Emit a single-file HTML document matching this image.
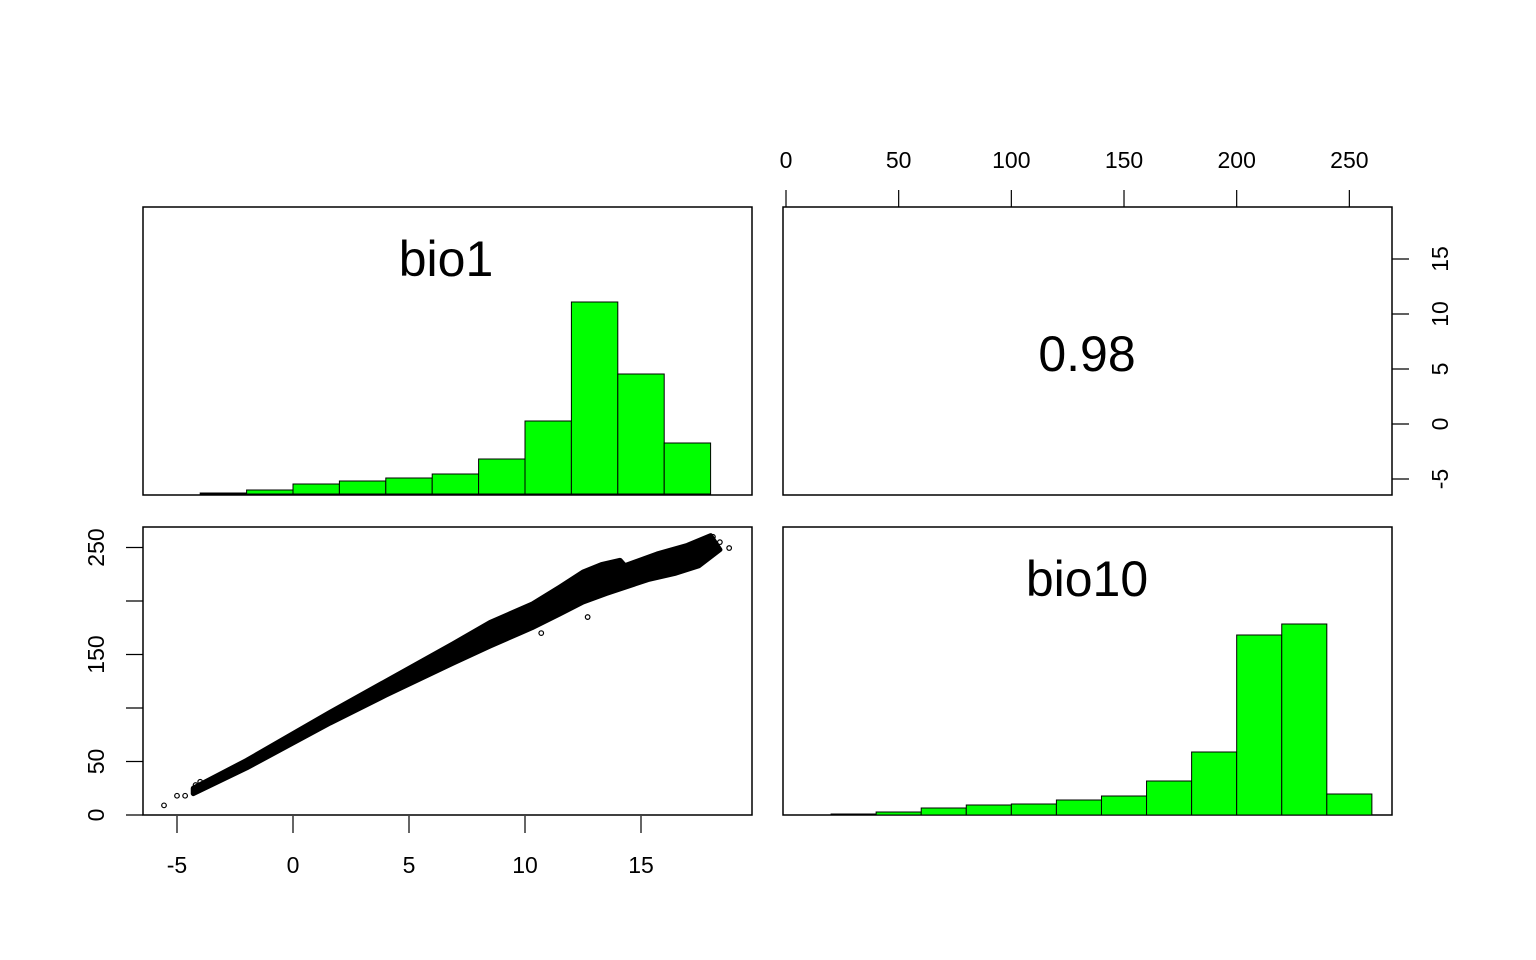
<!DOCTYPE html>
<html><head><meta charset="utf-8"><style>
html,body{margin:0;padding:0;background:#fff;}
svg{display:block;font-family:"Liberation Sans",Arial,sans-serif;}
</style></head><body>
<svg id="c" width="1536" height="960" viewBox="0 0 1536 960" xmlns="http://www.w3.org/2000/svg"></svg>
<script>
// bio1 histogram (bins -4..18 by 2), heights in plot units
const bio1Breaks = [-4,-2,0,2,4,6,8,10,12,14,16,18];
const bio1Counts = [1,4,10,13,16,20,35,73,192,120,51];
// bio10 histogram (bins 20..260 by 20)
const bio10Breaks = [20,40,60,80,100,120,140,160,180,200,220,240,260];
const bio10Counts = [1,3,7,10,11,15,19,34,63,180,191,21];
// scatter band (bio1 vs bio10)
const bandUpperX = [-4.3,-2,1.6,4,6.9,8.5,10.3,11.5,12.5,13.3,14.1,14.3,15.7,17.0,18.0];
const bandUpperY = [25,51,96,125,160,180,197,213,227,234,238,233,244,252,261];
const bandLowerX = [-4.3,-2,1.6,4,6.9,8.5,10.3,11.5,12.5,13.5,15.3,16.5,17.5,18.4];
const bandLowerY = [20,44,86,112,142,158,175,188,199,207,220,226,233,248];
const outlierX = [-5.56,-5.0,-4.65,-4.2,-4.0,18.4,18.8,18.1,10.7,12.7];
const outlierY = [9,18,18,28,31,255,249.5,260,170,185];
const xTicks1 = [-5,0,5,10,15];
const yTicks1 = [0,50,100,150,200,250];
const yTickLabels1 = ["0","50","","150","","250"];
const xTicks10 = [0,50,100,150,200,250];
const yTicksR = [-5,0,5,10,15];

const svg = document.getElementById('c');
const NS = 'http://www.w3.org/2000/svg';
function mk(tag, attrs, parent){
  const e = document.createElementNS(NS, tag);
  for (const k in attrs) e.setAttribute(k, attrs[k]);
  (parent||svg).appendChild(e);
  return e;
}
const sx1 = v => 293 + (v) * 23.2;
const sy10 = v => 815 - v * 1.07;
const sx10 = v => 786 + v * 2.2534;
const syR = v => 424 - v * 11;
const hy1 = v => 494 - v;
const hy10 = v => 815 - v;

const panels = [
  ['panel-bio1-hist',143,207],['panel-correlation',783,207],
  ['panel-scatter',143,527],['panel-bio10-hist',783,527]];
panels.forEach(p=>{
  const r = mk('rect',{x:p[1],y:p[2],width:609,height:288,fill:'none',stroke:'#000','stroke-width':1.5});
  
  
});

bio1Counts.forEach((c,i)=>{
  const x0 = sx1(bio1Breaks[i]), x1 = sx1(bio1Breaks[i+1]);
  const r = mk('rect',{x:x0,y:hy1(c),width:x1-x0,height:c,fill:'#00ff00',stroke:'#000','stroke-width':1});
  
  
});
bio10Counts.forEach((c,i)=>{
  const x0 = sx10(bio10Breaks[i]), x1 = sx10(bio10Breaks[i+1]);
  const r = mk('rect',{x:x0,y:hy10(c),width:x1-x0,height:c,fill:'#00ff00',stroke:'#000','stroke-width':1});
  
  
});

let pts = [];
for (let i=0;i<bandUpperX.length;i++) pts.push(sx1(bandUpperX[i])+','+sy10(bandUpperY[i]));
for (let i=bandLowerX.length-1;i>=0;i--) pts.push(sx1(bandLowerX[i])+','+sy10(bandLowerY[i]));
const band = mk('polygon',{points:pts.join(' '),fill:'#000',stroke:'#000','stroke-width':5,'stroke-linejoin':'round'});


outlierX.forEach((x,i)=>{
  const c = mk('circle',{cx:sx1(x),cy:sy10(outlierY[i]),r:2.3,fill:'none',stroke:'#000','stroke-width':1.2});
  
  
});

function txt(x,y,s,size,name,rot){
  const t = mk('text',{x:x,y:y,'font-size':size,'text-anchor':'middle',fill:'#000'});
  if (rot) t.setAttribute('transform','rotate(-90 '+x+' '+y+')');
  t.textContent = s;
  
  
  return t;
}
xTicks1.forEach(v=>{
  mk('line',{x1:sx1(v),x2:sx1(v),y1:816,y2:833,stroke:'#000','stroke-width':1.2});
  txt(sx1(v),873,String(v),23,'x-tick-label');
});
yTicks1.forEach((v,i)=>{
  mk('line',{x1:126,x2:143,y1:sy10(v),y2:sy10(v),stroke:'#000','stroke-width':1.2});
  if (yTickLabels1[i]) txt(104,sy10(v),yTickLabels1[i],23,'y-tick-label',true);
});
xTicks10.forEach(v=>{
  mk('line',{x1:sx10(v),x2:sx10(v),y1:190,y2:207,stroke:'#000','stroke-width':1.2});
  txt(sx10(v),168,String(v),23,'top-x-tick-label');
});
yTicksR.forEach(v=>{
  mk('line',{x1:1392,x2:1409,y1:syR(v),y2:syR(v),stroke:'#000','stroke-width':1.2});
  txt(1448,syR(v),String(v),23,'right-y-tick-label',true);
});

txt(446,276,'bio1',50,'label-bio1');
txt(1087,371,'0.98',50,'correlation-value');
txt(1087,596,'bio10',50,'label-bio10');
</script>
</body></html>
